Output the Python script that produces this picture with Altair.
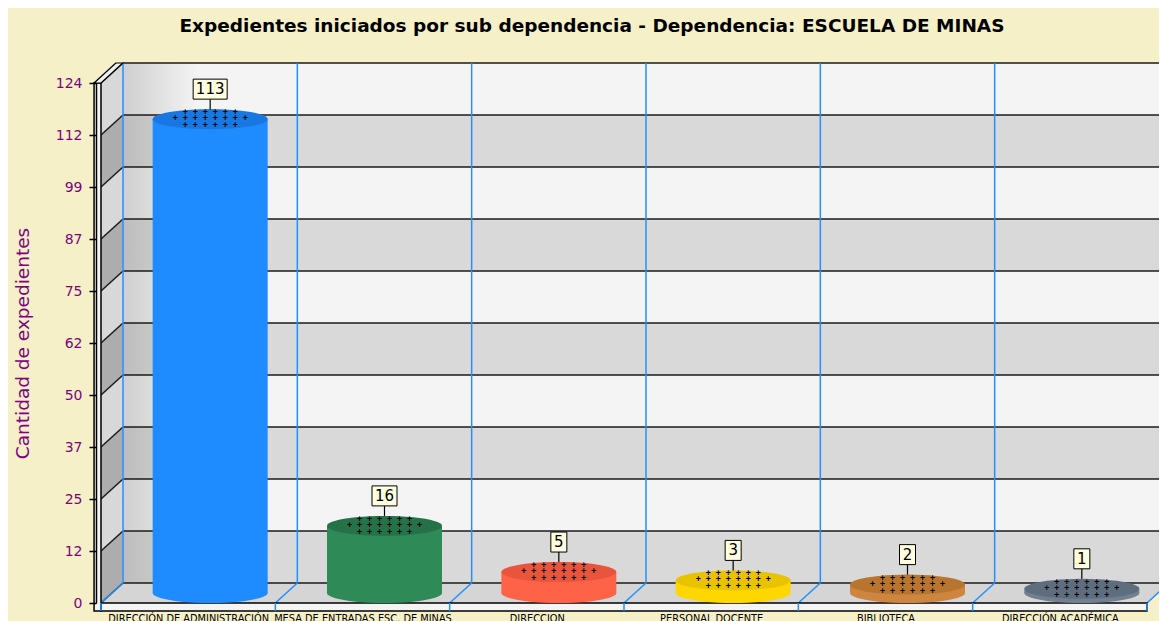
import json
import math
import altair as alt
import pandas as pd

# ---------------- data ----------------
TITLE = "Expedientes iniciados por sub dependencia - Dependencia: ESCUELA DE MINAS"
Y_TITLE = "Cantidad de expedientes"
CATEGORIES = ["DIRECCIÓN DE ADMINISTRACIÓN", "MESA DE ENTRADAS ESC. DE MINAS", "DIRECCION",
              "PERSONAL DOCENTE", "BIBLIOTECA", "DIRECCIÓN ACADÉMICA"]
VALUES = [113, 16, 5, 3, 2, 1]
SIDE_COLORS = ["#1E8CFF", "#2E8B57", "#FF6347", "#FFD700", "#CD853F", "#708090"]
TOP_COLORS = ["#1877E0", "#257249", "#E8553C", "#E9C300", "#B8752F", "#5F6E7E"]
Y_MAX = 124
Y_TICK_LABELS = ["0", "12", "25", "37", "50", "62", "75", "87", "99", "112", "124"]

# ---------------- layout / style ----------------
W, H = 1056, 520
PAD = {"left": 88, "top": 75, "right": 7, "bottom": 30}
DX, DY = 22, 20            # 3D depth offset in px
BAR_W = 115
ELL_RY = 0.174             # ellipse vertical radius relative to horizontal radius
BG = "#F5F0C8"
PURPLE = "#800080"
FONT = "DejaVu Sans"

n = len(CATEGORIES)
band = W / n
ux = DX / band
uy = DY * Y_MAX / H
n_steps = len(Y_TICK_LABELS) - 1
step = Y_MAX / n_steps

XS = alt.Scale(domain=[0, n], nice=False, zero=False)
YS = alt.Scale(domain=[0, Y_MAX], nice=False, zero=False)

# ellipse symbol path
pts = []
for j in range(48):
    a = 2 * math.pi * j / 48
    pts.append(f"{math.cos(a):.4f},{ELL_RY * math.sin(a):.4f}")
ELLIPSE = "M" + "L".join(pts) + "Z"

# ---------------- frames ----------------
stripes = pd.DataFrame({"k": list(range(n_steps))})
stripes["lo"] = stripes.k * step
stripes["hi"] = (stripes.k + 1) * step
stripes["tone"] = ["L" if (n_steps - 1 - k) % 2 == 0 else "D" for k in stripes.k]
stripes["xa"] = 0
stripes["xb"] = n + 0.2

levels = pd.DataFrame({"v": [round(k * step, 6) for k in range(n_steps + 1)]})
levels["xa"] = 0
levels["xb"] = n + 0.2

lw_rows = []
for _, r in stripes.iterrows():
    lw_rows.append({"k": r.k, "tone": r.tone, "x": 0, "y": r.lo, "y2": r.hi})
    lw_rows.append({"k": r.k, "tone": r.tone, "x": ux, "y": r.lo + uy, "y2": r.hi + uy})
leftwall = pd.DataFrame(lw_rows)

floor = pd.DataFrame({"y": [0, uy], "xa": [0, ux], "xb": [n, n + ux]})
FACE = 7
walltop = pd.DataFrame({"y": [Y_MAX, Y_MAX + uy],
                        "xa": [-FACE / band, (DX - FACE) / band],
                        "xb": [0, ux]})
wallfront = pd.DataFrame({"y": [0], "y2": [Y_MAX], "xa": [-FACE / band], "xb": [0]})

seps = pd.DataFrame({"k": list(range(n + 1))})
seps["y0"] = 0
seps["y1"] = Y_MAX

bars = pd.DataFrame({"cat": CATEGORIES, "v": VALUES, "side": SIDE_COLORS, "top": TOP_COLORS})
bars["c"] = [i + 0.5 for i in range(n)]
bars["zero"] = 0
bars["label"] = bars.v.astype(str)
bh = 20
bars["w"] = [9 * len(s) + 7 for s in bars.label]
bars["sz"] = bars.w ** 2
bars["path"] = [f"M-1,{-bh / w:.4f}L1,{-bh / w:.4f}L1,{bh / w:.4f}L-1,{bh / w:.4f}Z" for w in bars.w]

# ---------------- axes ----------------
y_label_expr = "[" + ",".join(json.dumps(t) for t in Y_TICK_LABELS) + f"][round(datum.value/{step})]"
x_label_expr = "[" + ",".join(json.dumps(c, ensure_ascii=False) for c in CATEGORIES) + "][floor(datum.value)]"

X_AXIS = alt.Axis(values=[i + 0.5 for i in range(n)], labelExpr=x_label_expr, domain=False, ticks=False,
                  grid=False, labelFontSize=9.8, labelFont=FONT, labelColor="black", labelPadding=10,
                  labelOverlap=False, title=None, zindex=1)
Y_AXIS = alt.Axis(values=levels.v.tolist(), labelExpr=y_label_expr, grid=False, domainColor="black",
                  domainWidth=1.5, tickColor="black", tickSize=7, tickWidth=1.5, labelColor=PURPLE,
                  labelFontSize=14, labelFont=FONT, labelPadding=7, title=Y_TITLE, titleColor=PURPLE,
                  titleFontSize=18.5, titleFont=FONT, titleFontWeight="normal", titlePadding=23, zindex=1)


def X(field):
    return alt.X(field, scale=XS, axis=X_AXIS, stack=None)


def Y(field):
    return alt.Y(field, scale=YS, axis=Y_AXIS, stack=None)


def grad(c0, c1):
    return {"gradient": "linear", "x1": 0, "x2": 1, "y1": 0, "y2": 0,
            "stops": [{"offset": 0, "color": c0}, {"offset": 0.07, "color": c1}, {"offset": 1, "color": c1}]}


off_back = dict(xOffset=DX, x2Offset=DX, yOffset=-DY, y2Offset=-DY)

back_light = alt.Chart(stripes[stripes.tone == "L"]).mark_rect(fill=grad("#CFCFCF", "#F4F4F4"), **off_back).encode(
    x=X("xa:Q"), x2="xb:Q", y=Y("lo:Q"), y2="hi:Q")
back_dark = alt.Chart(stripes[stripes.tone == "D"]).mark_rect(fill=grad("#BDBDBD", "#D9D9D9"), **off_back).encode(
    x=X("xa:Q"), x2="xb:Q", y=Y("lo:Q"), y2="hi:Q")

left_wall = alt.Chart(leftwall).mark_area(opacity=1).encode(
    x=X("x:Q"), y=Y("y:Q"), y2="y2:Q", detail="k:N",
    color=alt.Color("tone:N", scale=alt.Scale(domain=["L", "D"], range=["#D8D8D8", "#ADADAD"]), legend=None))

floor_l = alt.Chart(floor).mark_area(orient="horizontal", color="#D5D5D5", opacity=1).encode(
    y=Y("y:Q"), x=X("xa:Q"), x2="xb:Q")

wall_top = alt.Chart(walltop).mark_area(orient="horizontal", color="#F0F0F0", opacity=1, stroke="black",
                                        strokeWidth=1.2).encode(
    y=Y("y:Q"), x=X("xa:Q"), x2="xb:Q")

grid_back = alt.Chart(levels).mark_rule(color="#1A1A1A", strokeWidth=1.6, **off_back).encode(
    x=X("xa:Q"), x2="xb:Q", y=Y("v:Q"), y2="v:Q")
grid_diag = alt.Chart(levels).mark_rule(color="#1A1A1A", strokeWidth=1.5, x2Offset=DX, y2Offset=-DY).encode(
    x=X("xa:Q"), x2="xa:Q", y=Y("v:Q"), y2="v:Q")

blue_back = alt.Chart(seps).mark_rule(color="#1E90FF", strokeWidth=1.5, **off_back).encode(
    x=X("k:Q"), y=Y("y0:Q"), y2="y1:Q")
blue_floor = alt.Chart(seps).mark_rule(color="#1E90FF", strokeWidth=1.5, x2Offset=DX, y2Offset=-DY).encode(
    x=X("k:Q"), x2="k:Q", y=Y("y0:Q"), y2="y0:Q")

front_floor = alt.Chart(floor.iloc[:1]).mark_rect(fill="#F4F4F4", stroke="black", strokeWidth=1.5,
                                                  y2Offset=8).encode(
    x=X("xa:Q"), x2="xb:Q", y=Y("y:Q"), y2="y:Q")
front_wall = alt.Chart(wallfront).mark_rect(fill="#F4F4F4", stroke="black", strokeWidth=1.5,
                                            yOffset=8).encode(
    x=X("xa:Q"), x2="xb:Q", y=Y("y:Q"), y2="y2:Q")
blue_front = alt.Chart(seps).mark_rule(color="#1E90FF", strokeWidth=1.5, y2Offset=8).encode(
    x=X("k:Q"), y=Y("y0:Q"), y2="y0:Q")

bx = X("c:Q")
cyl = alt.Chart(bars).mark_bar(size=BAR_W, xOffset=DX, yOffset=-10, y2Offset=-10, orient="vertical").encode(
    x=bx, y=Y("v:Q"), y2="zero:Q", color=alt.Color("side:N", scale=None))
bottom = alt.Chart(bars).mark_point(shape=ELLIPSE, size=BAR_W ** 2, filled=True, opacity=1, strokeWidth=0,
                                    xOffset=DX, yOffset=-10).encode(
    x=bx, y=Y("zero:Q"), color=alt.Color("side:N", scale=None))
top = alt.Chart(bars).mark_point(shape=ELLIPSE, size=BAR_W ** 2, filled=True, opacity=1, strokeWidth=0,
                                 xOffset=DX, yOffset=-10).encode(
    x=bx, y=Y("v:Q"), color=alt.Color("top:N", scale=None))

crosses = []
for dy_row, count in [(-7, 6), (-1, 8), (6, 6)]:
    crosses.append(alt.Chart(bars).mark_text(text="  ".join(["+"] * count), font="DejaVu Sans Mono",
                                             fontSize=8.3, fontWeight="bold", color="black", baseline="middle",
                                             xOffset=DX, yOffset=-10 + dy_row).encode(
        x=bx, y=Y("v:Q")))

stem = alt.Chart(bars).mark_rule(color="black", strokeWidth=1.2, xOffset=DX, yOffset=-20, y2Offset=-30).encode(
    x=bx, y=Y("v:Q"), y2="v:Q")
box = alt.Chart(bars).mark_point(filled=True, fill="#FFFFE0", stroke="black", strokeWidth=1, opacity=1,
                                 xOffset=DX, yOffset=-40).encode(
    x=bx, y=Y("v:Q"),
    shape=alt.Shape("path:N", scale=None), size=alt.Size("sz:Q", scale=None))
txt = alt.Chart(bars).mark_text(font=FONT, fontSize=15, color="black", baseline="middle",
                                xOffset=DX, yOffset=-40).encode(
    x=bx, y=Y("v:Q"), text="label:N")

chart = alt.layer(
    back_light, back_dark, left_wall, floor_l, grid_back, grid_diag, blue_back, blue_floor,
    front_floor, front_wall, wall_top, blue_front,
    bottom, cyl, top, *crosses, stem, box, txt
).properties(
    width=W, height=H,
    title=alt.TitleParams(TITLE, font=FONT, fontSize=18.5, fontWeight="bold", color="black",
                          anchor="middle", frame="group", offset=25, dx=-32),
    background=BG,
    padding=PAD,
    autosize=alt.AutoSizeParams(type="none"),
).configure_view(stroke=None)

chart.save("out.html", embed_options={"renderer": "svg", "actions": False})
